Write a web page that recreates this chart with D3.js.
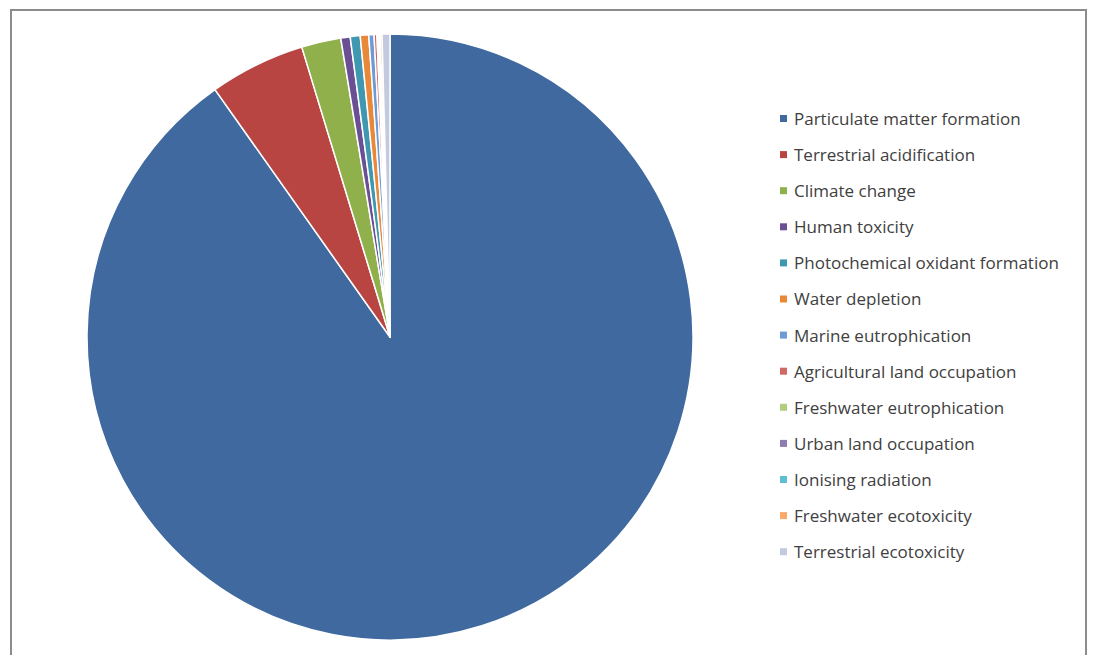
<!DOCTYPE html>
<html>
<head>
<meta charset="utf-8">
<script src="https://cdn.jsdelivr.net/npm/d3@7"></script>
<style>
  body { margin: 0; background: #fff; }
  text { font-family: "Open Sans", sans-serif; fill: #404040; }
</style>
</head>
<body>
<div id="viz"></div>
<script>
// Data (share of total impact, %)
const categories = [
    "Particulate matter formation",
    "Terrestrial acidification",
    "Climate change",
    "Human toxicity",
    "Photochemical oxidant formation",
    "Water depletion",
    "Marine eutrophication",
    "Agricultural land occupation",
    "Freshwater eutrophication",
    "Urban land occupation",
    "Ionising radiation",
    "Freshwater ecotoxicity",
    "Terrestrial ecotoxicity"
];
const shares = [90.2, 5.1, 2.1, 0.5, 0.53, 0.45, 0.28, 0.15, 0.08, 0.05, 0.04, 0.1, 0.42];
const colors = [
    "#40699f", "#b84542", "#8fb04a", "#6a4f94", "#3f98b0", "#e98838", "#6f9bd4",
    "#d06865", "#b3cc7e", "#8e7cb0", "#5ebfd4", "#f9a96a", "#c3c9de"
];

const data = categories.map((c, i) => ({ name: c, value: shares[i], color: colors[i] }));

const width = 1094, height = 655;

const svg = d3.select("#viz")
    .append("svg")
    .attr("width", width)
    .attr("height", height);

// chart frame
svg.append("rect")
    .attr("x", 11)
    .attr("y", 10)
    .attr("width", 1075)
    .attr("height", 660)
    .attr("fill", "none")
    .attr("stroke", "#8c8c8c")
    .attr("stroke-width", 2);

const cx = 390, cy = 337, radius = 303;

const pie = d3.pie()
    .sort(null)
    .value(d => d.value);

const arc = d3.arc()
    .innerRadius(0)
    .outerRadius(radius);

svg.append("g")
    .attr("transform", `translate(${cx},${cy})`)
    .selectAll("path")
    .data(pie(data))
    .enter()
    .append("path")
    .attr("d", arc)
    .attr("fill", d => d.data.color)
    .attr("stroke", "#fff")
    .attr("stroke-width", 1.5)
    .attr("stroke-linejoin", "round");

// legend
const legend = svg.append("g")
    .attr("transform", "translate(780,119)");

const rows = legend.selectAll("g")
    .data(data)
    .enter()
    .append("g")
    .attr("transform", (d, i) => `translate(0, ${i * 36.1})`);

rows.append("rect")
    .attr("x", 0)
    .attr("y", -4)
    .attr("width", 7)
    .attr("height", 7)
    .attr("fill", d => d.color);

rows.append("text")
    .attr("x", 14)
    .attr("y", 0)
    .attr("dy", "0.35em")
    .style("font-size", "17px")
    .text(d => d.name);
</script>
</body>
</html>
